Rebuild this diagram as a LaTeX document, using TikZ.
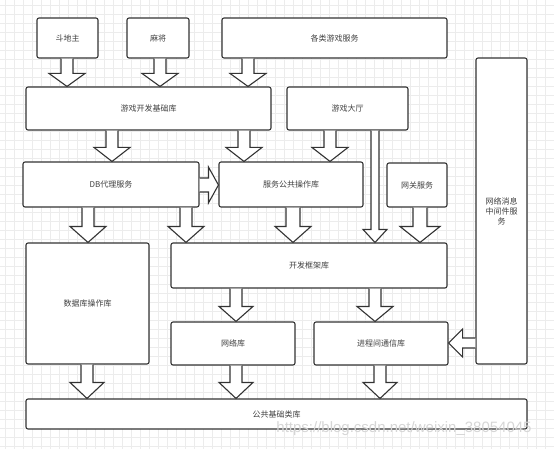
\documentclass[tikz,border=0pt]{standalone}
\usepackage{fontspec}
\setmainfont{Liberation Sans}
\newfontfamily\cjk{Noto Sans CJK SC}
\usetikzlibrary{calc}
\definecolor{linec}{HTML}{333333}
\definecolor{textc}{HTML}{404040}
\definecolor{gridc}{HTML}{ECECEC}
\definecolor{wmc}{HTML}{D6D6D6}
% vertical block arrow: x, from, to, shaft half width, head half width, head length
\newcommand\varr[6]{\draw[blk] let \p1=(#1,0 |- #2.south), \p2=(#1,0 |- #3.north) in
  (\x1-#4pt,\y1) -- (\x1-#4pt,\y2+#6pt) -- (\x1-#5pt,\y2+#6pt) -- (\x1,\y2)
  -- (\x1+#5pt,\y2+#6pt) -- (\x1+#4pt,\y2+#6pt) -- (\x1+#4pt,\y1);}
% rightward block arrow: y, from, to, shaft half, head half, head length
\newcommand\rarr[6]{\draw[blk] let \p1=(#2.east |- 0,#1), \p2=(#3.west |- 0,#1) in
  (\x1,\y1+#4pt) -- (\x2-#6pt,\y1+#4pt) -- (\x2-#6pt,\y1+#5pt) -- (\x2,\y1)
  -- (\x2-#6pt,\y1-#5pt) -- (\x2-#6pt,\y1-#4pt) -- (\x1,\y1-#4pt);}
% leftward block arrow
\newcommand\larr[6]{\draw[blk] let \p1=(#2.west |- 0,#1), \p2=(#3.east |- 0,#1) in
  (\x1,\y1+#4pt) -- (\x2+#6pt,\y1+#4pt) -- (\x2+#6pt,\y1+#5pt) -- (\x2,\y1)
  -- (\x2+#6pt,\y1-#5pt) -- (\x2+#6pt,\y1-#4pt) -- (\x1,\y1-#4pt);}
\begin{document}
\begin{tikzpicture}[x=1pt,y=-1pt,
  box/.style={draw=linec, line width=1.1pt, rounded corners=2pt, fill=white,
    font=\cjk\fontsize{8}{10}\selectfont, text=textc, inner sep=0pt, align=center},
  blk/.style={draw=linec, line width=1.1pt, fill=white, line join=miter}]
\fill[white] (0,0) rectangle (554,449);
\useasboundingbox (0,0) rectangle (554,449);
\foreach \i in {0,...,61} \draw[gridc, line width=0.6pt] (5+9*\i,0) -- (5+9*\i,449);
\foreach \j in {0,...,49} \draw[gridc, line width=0.6pt] (0,5+9*\j) -- (554,5+9*\j);

\node[box, minimum width=61pt, minimum height=40pt] (ddz) at (67.5,38) {斗地主};
\node[box, minimum width=62pt, minimum height=40pt] (mj) at (158,38) {麻将};
\node[box, minimum width=225pt, minimum height=40pt] (gs) at (334.5,38) {各类游戏服务};
\node[box, minimum width=245pt, minimum height=43pt] (base) at (148.5,108.5) {游戏开发基础库};
\node[box, minimum width=121pt, minimum height=43pt] (hall) at (347.5,108.5) {游戏大厅};
\node[box, minimum width=51pt, minimum height=306pt] (msg) at (501.5,211) {网络消息\\中间件服\\务};
\node[box, minimum width=176pt, minimum height=45pt] (db) at (111,184.5) {DB代理服务};
\node[box, minimum width=144pt, minimum height=45pt] (svc) at (291,184.5) {服务公共操作库};
\node[box, minimum width=60pt, minimum height=44pt] (gw) at (417,185) {网关服务};
\node[box, minimum width=123pt, minimum height=121pt] (dbop) at (87.5,303.5) {数据库操作库};
\node[box, minimum width=276pt, minimum height=45pt] (fw) at (309,265.5) {开发框架库};
\node[box, minimum width=124pt, minimum height=43pt] (net) at (233,343.5) {网络库};
\node[box, minimum width=134pt, minimum height=43pt] (ipc) at (381,343.5) {进程间通信库};
\node[box, minimum width=501pt, minimum height=30pt] (common) at (276.5,414) {公共基础类库};

\varr{67}{ddz}{base}{6}{18}{13}
\varr{160}{mj}{base}{6}{18}{13}
\varr{248}{gs}{base}{6}{18}{13}
\varr{112}{base}{db}{6}{18}{14}
\varr{244}{base}{svc}{6}{18}{14}
\varr{330}{hall}{svc}{6}{18}{14}
\varr{375}{hall}{fw}{4}{12}{13}
\varr{88}{db}{dbop}{6}{18}{16}
\varr{186}{db}{fw}{6}{18}{16}
\varr{293}{svc}{fw}{7}{18}{16}
\varr{420}{gw}{fw}{7}{20}{16}
\varr{236}{fw}{net}{6}{17}{15}
\varr{375}{fw}{ipc}{6}{18}{15}
\varr{87}{dbop}{common}{6}{17}{16}
\varr{236}{net}{common}{6}{17}{16}
\varr{380}{ipc}{common}{6}{17}{16}
\rarr{185}{db}{svc}{7}{18}{10}
\larr{343}{msg}{ipc}{5}{14}{14}

\node[font=\fontsize{15}{15}\selectfont, text=wmc, inner sep=0pt] (wm) at (404,429) {https://blog.csdn.net/weixin\_38054045};
\end{tikzpicture}
\end{document}
